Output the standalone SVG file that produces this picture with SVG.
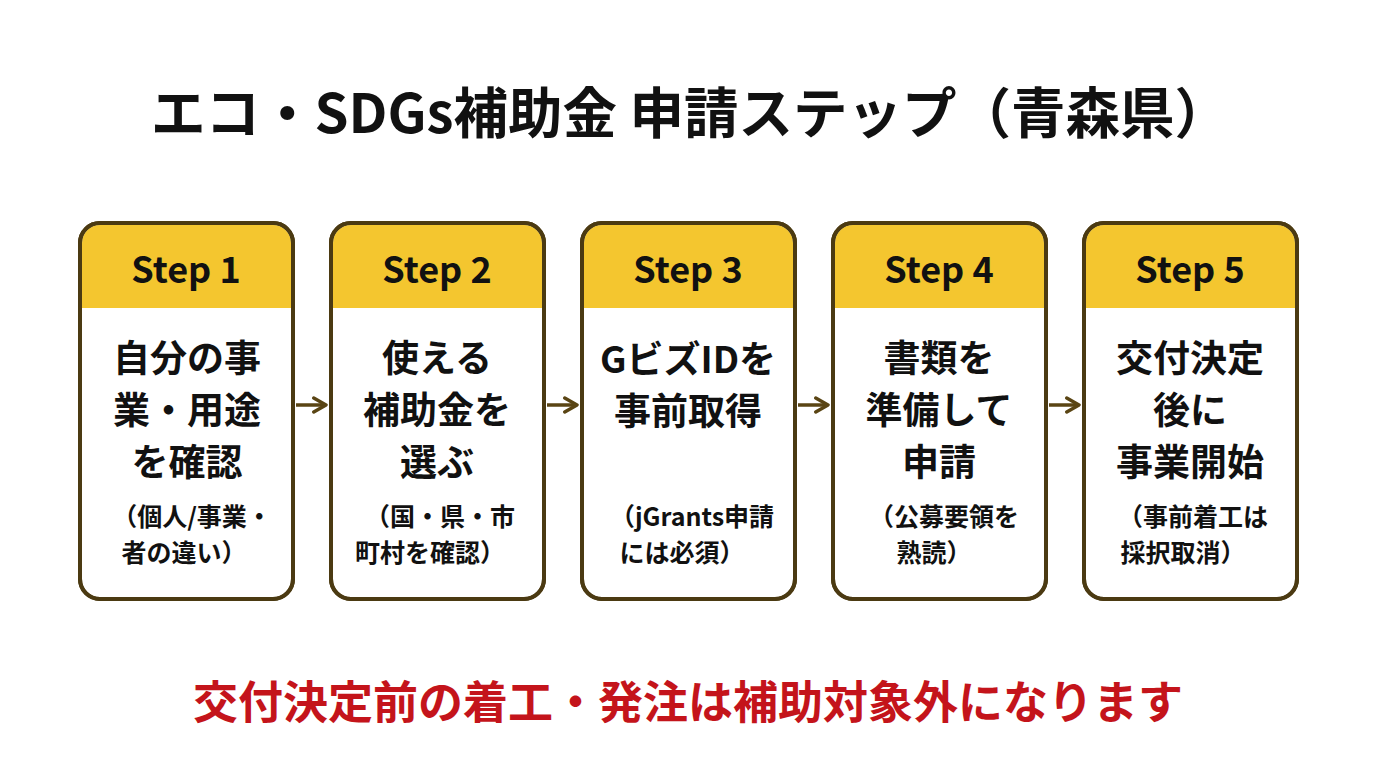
<svg xmlns="http://www.w3.org/2000/svg" width="1376" height="768" viewBox="0 0 1376 768">
<style>
text{font-family:"Noto Sans CJK JP","Noto Sans",sans-serif;font-weight:700;text-anchor:middle;fill:#111}
.title{font-size:54.5px}
.step{font-size:36px}
.main{font-size:37px}
.sub{font-size:25px}
.warn{font-size:45px;fill:#c4141b}
.frame{fill:#fff;stroke:#4b3a12;stroke-width:4}
.head{fill:#f4c62f}
.conn{stroke:#5a4514;stroke-width:3.5;fill:none}
</style>
<defs>
<marker id="ah" viewBox="0 0 10 10" refX="8" refY="5" markerWidth="5" markerHeight="5" orient="auto" markerUnits="strokeWidth">
<path d="M1,1 L8,5 L1,9" fill="none" stroke="#5a4514" stroke-width="2" stroke-linecap="round" stroke-linejoin="round"/>
</marker>
</defs>
<rect width="1376" height="768" fill="#fff"/>
<text class="title" x="690" y="133">エコ・SDGs補助金 申請ステップ（青森県）</text>

<g id="connectors">
<path class="conn" d="M296 405 H326" marker-end="url(#ah)"/>
<path class="conn" d="M547 405 H577" marker-end="url(#ah)"/>
<path class="conn" d="M798 405 H828" marker-end="url(#ah)"/>
<path class="conn" d="M1049 405 H1079" marker-end="url(#ah)"/>
</g>

<g id="step1">
<rect class="frame" x="80" y="223" width="213" height="376" rx="20"/>
<path class="head" d="M100 225 H273 A18 18 0 0 1 291 243 V308 H82 V243 A18 18 0 0 1 100 225 Z"/>
<rect x="80" y="223" width="213" height="376" rx="20" fill="none" stroke="#4b3a12" stroke-width="4"/>
<text class="step" x="186" y="283">Step 1</text>
<text class="main" x="187" y="372">自分の事</text>
<text class="main" x="187" y="424">業・用途</text>
<text class="main" x="187" y="476">を確認</text>
<text class="sub" x="192" y="526">（個人/事業・</text>
<text class="sub" x="184" y="562">者の違い）</text>
</g>

<g id="step2">
<rect class="frame" x="331" y="223" width="213" height="376" rx="20"/>
<path class="head" d="M351 225 H524 A18 18 0 0 1 542 243 V308 H333 V243 A18 18 0 0 1 351 225 Z"/>
<rect x="331" y="223" width="213" height="376" rx="20" fill="none" stroke="#4b3a12" stroke-width="4"/>
<text class="step" x="437" y="283">Step 2</text>
<text class="main" x="437" y="372">使える</text>
<text class="main" x="437" y="424">補助金を</text>
<text class="main" x="437" y="476">選ぶ</text>
<text class="sub" x="440" y="526">（国・県・市</text>
<text class="sub" x="430" y="562">町村を確認）</text>
</g>

<g id="step3">
<rect class="frame" x="582" y="223" width="213" height="376" rx="20"/>
<path class="head" d="M602 225 H775 A18 18 0 0 1 793 243 V308 H584 V243 A18 18 0 0 1 602 225 Z"/>
<rect x="582" y="223" width="213" height="376" rx="20" fill="none" stroke="#4b3a12" stroke-width="4"/>
<text class="step" x="688" y="283">Step 3</text>
<text class="main" x="688" y="373">GビズIDを</text>
<text class="main" x="688" y="425">事前取得</text>
<text class="sub" x="692" y="526">（jGrants申請</text>
<text class="sub" x="682" y="562">には必須）</text>
</g>

<g id="step4">
<rect class="frame" x="833" y="223" width="213" height="376" rx="20"/>
<path class="head" d="M853 225 H1026 A18 18 0 0 1 1044 243 V308 H835 V243 A18 18 0 0 1 853 225 Z"/>
<rect x="833" y="223" width="213" height="376" rx="20" fill="none" stroke="#4b3a12" stroke-width="4"/>
<text class="step" x="939" y="283">Step 4</text>
<text class="main" x="939" y="372">書類を</text>
<text class="main" x="939" y="424">準備して</text>
<text class="main" x="939" y="476">申請</text>
<text class="sub" x="944" y="526">（公募要領を</text>
<text class="sub" x="934" y="562">熟読）</text>
</g>

<g id="step5">
<rect class="frame" x="1084" y="223" width="213" height="376" rx="20"/>
<path class="head" d="M1104 225 H1277 A18 18 0 0 1 1295 243 V308 H1086 V243 A18 18 0 0 1 1104 225 Z"/>
<rect x="1084" y="223" width="213" height="376" rx="20" fill="none" stroke="#4b3a12" stroke-width="4"/>
<text class="step" x="1190" y="283">Step 5</text>
<text class="main" x="1190" y="372">交付決定</text>
<text class="main" x="1190" y="424">後に</text>
<text class="main" x="1190" y="476">事業開始</text>
<text class="sub" x="1193" y="526">（事前着工は</text>
<text class="sub" x="1183" y="562">採択取消）</text>
</g>

<text class="warn" x="688" y="719">交付決定前の着工・発注は補助対象外になります</text>
</svg>
